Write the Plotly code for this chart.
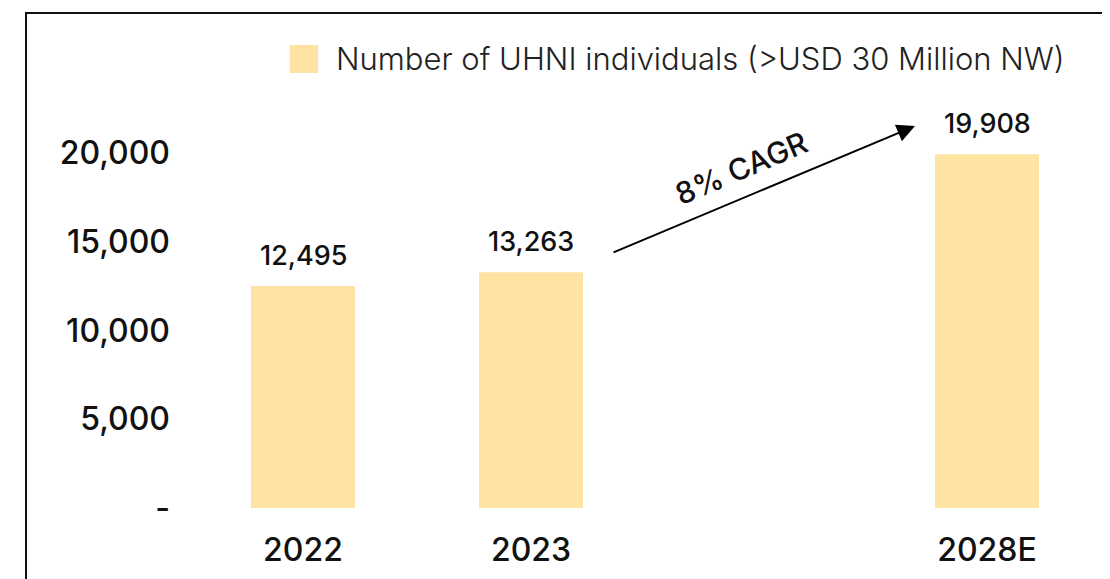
import plotly.graph_objects as go

categories = ["2022", "2023", " ", "2028E"]
values = [12495, 13263, None, 19908]
value_labels = ["12,495", "13,263", "", "19,908"]
y_tickvals = [0, 5000, 10000, 15000, 20000]
y_ticktext = ["-", "5,000", "10,000", "15,000", "20,000"]
series_name = "Number of UHNI individuals (>USD 30 Million NW)"
cagr_text = "8% CAGR"

BAR = "#FFE3A3"
FONT = "Inter, Poppins, 'Open Sans', sans-serif"

# page offset (browser body margin) and plot-area geometry in screen pixels
OFF = 8
PL, PR, PT, PB = 189, 1101, 102, 508
W, H = 1110 - OFF, 579 - OFF
PW, PH = PR - PL, PB - PT


def px(sx):
    return (sx - PL) / PW


def py(sy):
    return (PB - sy) / PH


fig = go.Figure()
fig.add_trace(go.Bar(
    x=categories, y=values, width=0.456,
    marker=dict(color=BAR, line=dict(width=0)),
    name=series_name, showlegend=False,
))

# data labels (x given as category index)
for i, (v, t) in enumerate(zip(values, value_labels)):
    if v is None:
        continue
    fig.add_annotation(x=i, y=v, xref="x", yref="y", text=t, showarrow=False,
                       yanchor="bottom", yshift=12,
                       font=dict(family=FONT, size=27, color="#111111", weight=500))

# legend (manual, large swatch)
fig.add_shape(type="rect", xref="paper", yref="paper",
              x0=px(290), x1=px(318), y0=py(73), y1=py(45),
              fillcolor=BAR, line=dict(width=0))
fig.add_annotation(xref="paper", yref="paper", x=px(334), y=py(59),
                   xanchor="left", yanchor="middle", showarrow=False,
                   text=series_name,
                   font=dict(family=FONT, size=31, color="#222222", weight=300))

# frame
fig.add_shape(type="rect", xref="paper", yref="paper",
              x0=px(26), x1=px(1106), y0=py(600), y1=py(13),
              line=dict(color="#111111", width=2), fillcolor="rgba(0,0,0,0)")

# CAGR arrow
fig.add_annotation(xref="paper", yref="paper", x=px(915), y=py(126),
                   ax=-303, ay=127, axref="pixel", ayref="pixel",
                   showarrow=True, arrowhead=2, arrowsize=1.8, arrowwidth=2,
                   arrowcolor="#000000", text="")
fig.add_annotation(xref="paper", yref="paper", x=px(741), y=py(165),
                   yshift=44,
                   text=cagr_text, showarrow=False, textangle=-23,
                   font=dict(family=FONT, size=30, color="#111111", weight=500))

fig.update_layout(
    width=W, height=H,
    margin=dict(l=PL - OFF, r=W - (PR - OFF), t=PT - OFF, b=H - (PB - OFF)),
    paper_bgcolor="white", plot_bgcolor="white",
    showlegend=False,
    font=dict(family=FONT),
)
fig.update_xaxes(type="category", categoryorder="array", categoryarray=categories,
                 range=[-0.5, 3.5], showgrid=False, zeroline=False, showline=False,
                 ticks="", ticklabelstandoff=20,
                 tickfont=dict(family=FONT, size=32, color="#111111", weight=500))
fig.update_yaxes(range=[0, 22850], tickvals=y_tickvals, ticktext=y_ticktext,
                 showgrid=False, zeroline=False, showline=False, ticks="",
                 ticklabelstandoff=18,
                 tickfont=dict(family=FONT, size=32, color="#111111", weight=500))

fig.write_html("out.html")
